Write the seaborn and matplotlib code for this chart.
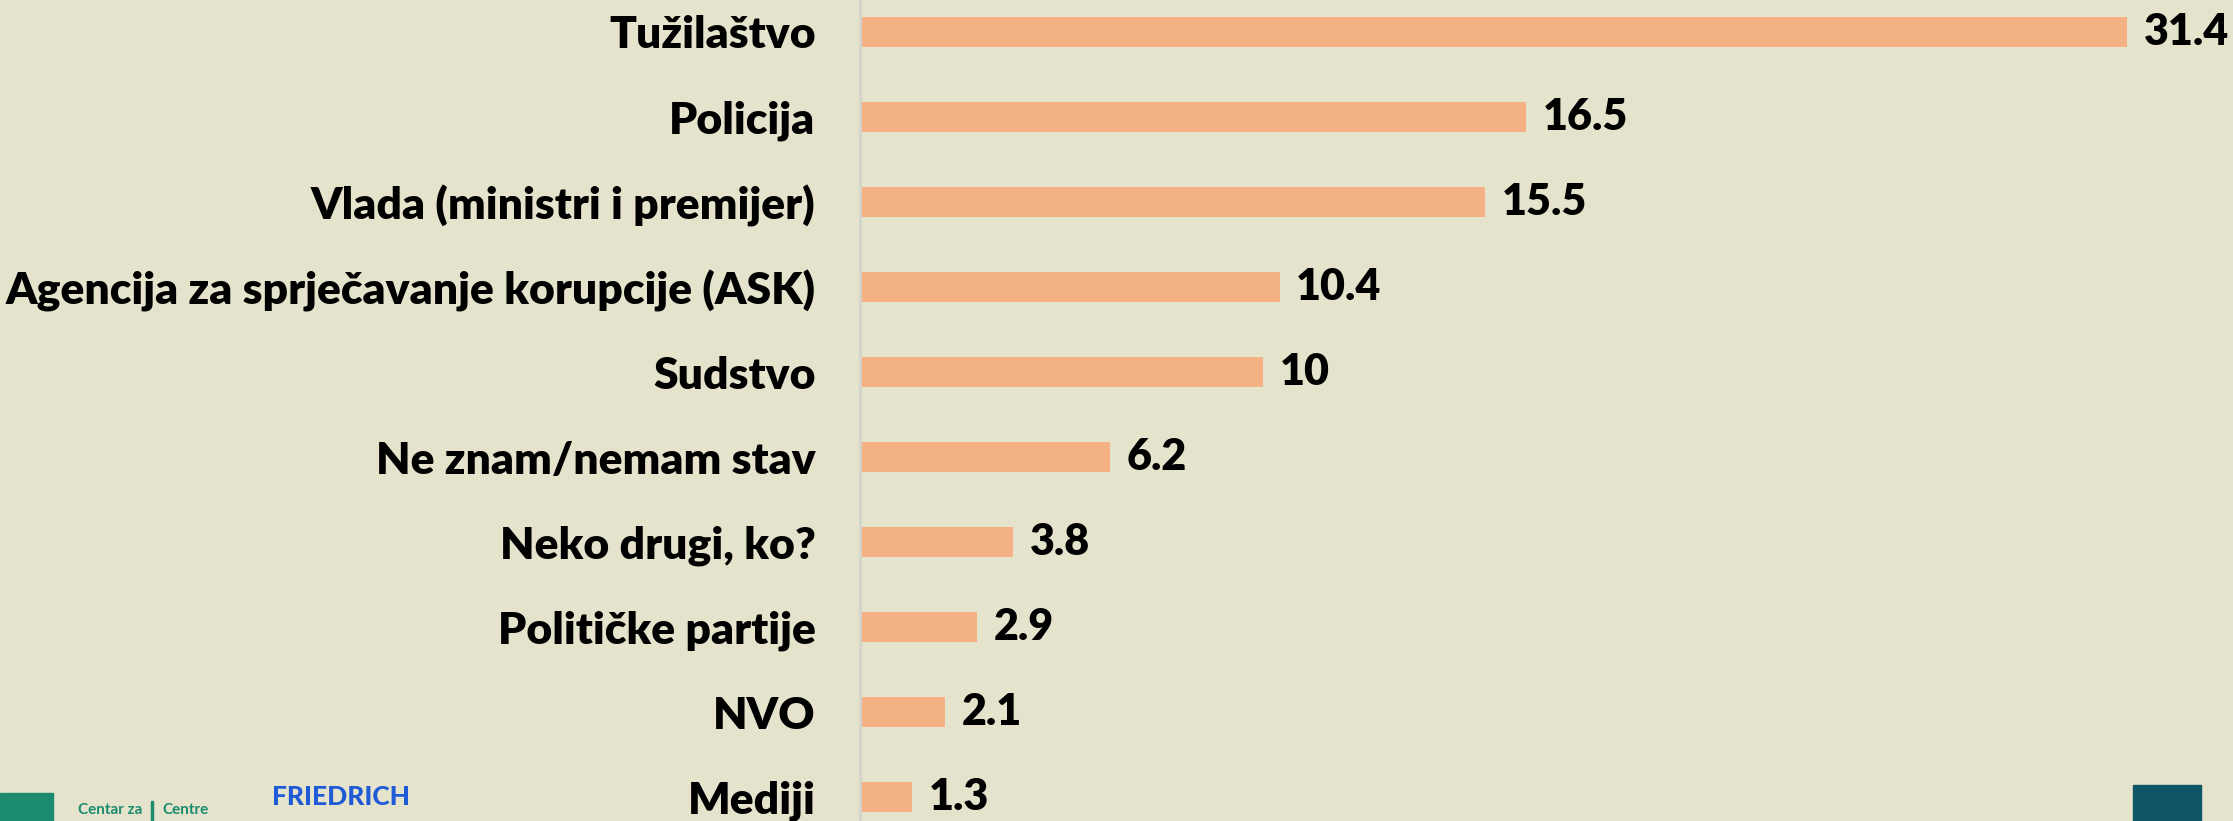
"""
Horizontal bar chart: institutions rated (%), recreated from a slide.
"""

import matplotlib
matplotlib.use("Agg")
import matplotlib.pyplot as plt
from matplotlib.patches import Rectangle
import pandas as pd
import seaborn as sns

categories = [
    "Tužilaštvo",
    "Policija",
    "Vlada (ministri i premijer)",
    "Agencija za sprječavanje korupcije (ASK)",
    "Sudstvo",
    "Ne znam/nemam stav",
    "Neko drugi, ko?",
    "Političke partije",
    "NVO",
    "Mediji",
]
values = [31.4, 16.5, 15.5, 10.4, 10, 6.2, 3.8, 2.9, 2.1, 1.3]
value_labels = ["31.4", "16.5", "15.5", "10.4", "10", "6.2", "3.8", "2.9", "2.1", "1.3"]

BG = "#E5E3CC"
BAR = "#F4B183"

sns.set_style("white")
plt.rcParams["font.family"] = ["Lato", "DejaVu Sans"]

df = pd.DataFrame({"category": categories, "value": values})

fig = plt.figure(figsize=(22.33, 8.21), dpi=100, facecolor=BG)
ax = fig.add_axes([860 / 2233, 0, 1 - 860 / 2233, 1])
ax.set_facecolor(BG)

sns.barplot(data=df, x="value", y="category", orient="h", color=BAR,
            width=0.35, saturation=1, linewidth=0, edgecolor="none", ax=ax)

ax.bar_label(ax.containers[0], labels=value_labels, padding=12,
             fontsize=31, fontweight="heavy", color="black")

ax.set_xlim(0, 34.03)
ax.set_ylim(9.28, -0.376)
ax.set_xlabel("")
ax.set_ylabel("")
ax.set_xticks([])
ax.tick_params(axis="y", length=0, pad=32, labelsize=32, labelcolor="black")
for lab in ax.get_yticklabels():
    lab.set_fontweight("heavy")
for side in ["top", "right", "bottom"]:
    ax.spines[side].set_visible(False)
ax.spines["left"].set_color("#D5D5D0")
ax.spines["left"].set_linewidth(2)

# partial logos at the bottom edge of the slide
fig.patches.append(Rectangle((0, 0), 53 / 2233, 28 / 821, transform=fig.transFigure,
                             color="#1B8B6F", zorder=0))
fig.text(78 / 2233, 4 / 821, "Centar za", color="#1B8B6F", fontsize=11,
         fontweight="bold", va="bottom")
fig.patches.append(Rectangle((151 / 2233, 0), 2 / 2233, 20 / 821,
                             transform=fig.transFigure, color="#1B8B6F"))
fig.text(162 / 2233, 4 / 821, "Centre", color="#1B8B6F", fontsize=11,
         fontweight="bold", va="bottom")
fig.text(272 / 2233, 12 / 821, "FRIEDRICH", color="#1F5BD6", fontsize=19,
         fontweight="black", va="bottom")
fig.patches.append(Rectangle((2133 / 2233, 0), 68 / 2233, 36 / 821,
                             transform=fig.transFigure, color="#0E5566"))

fig.savefig("out.png", dpi=100, facecolor=BG)
